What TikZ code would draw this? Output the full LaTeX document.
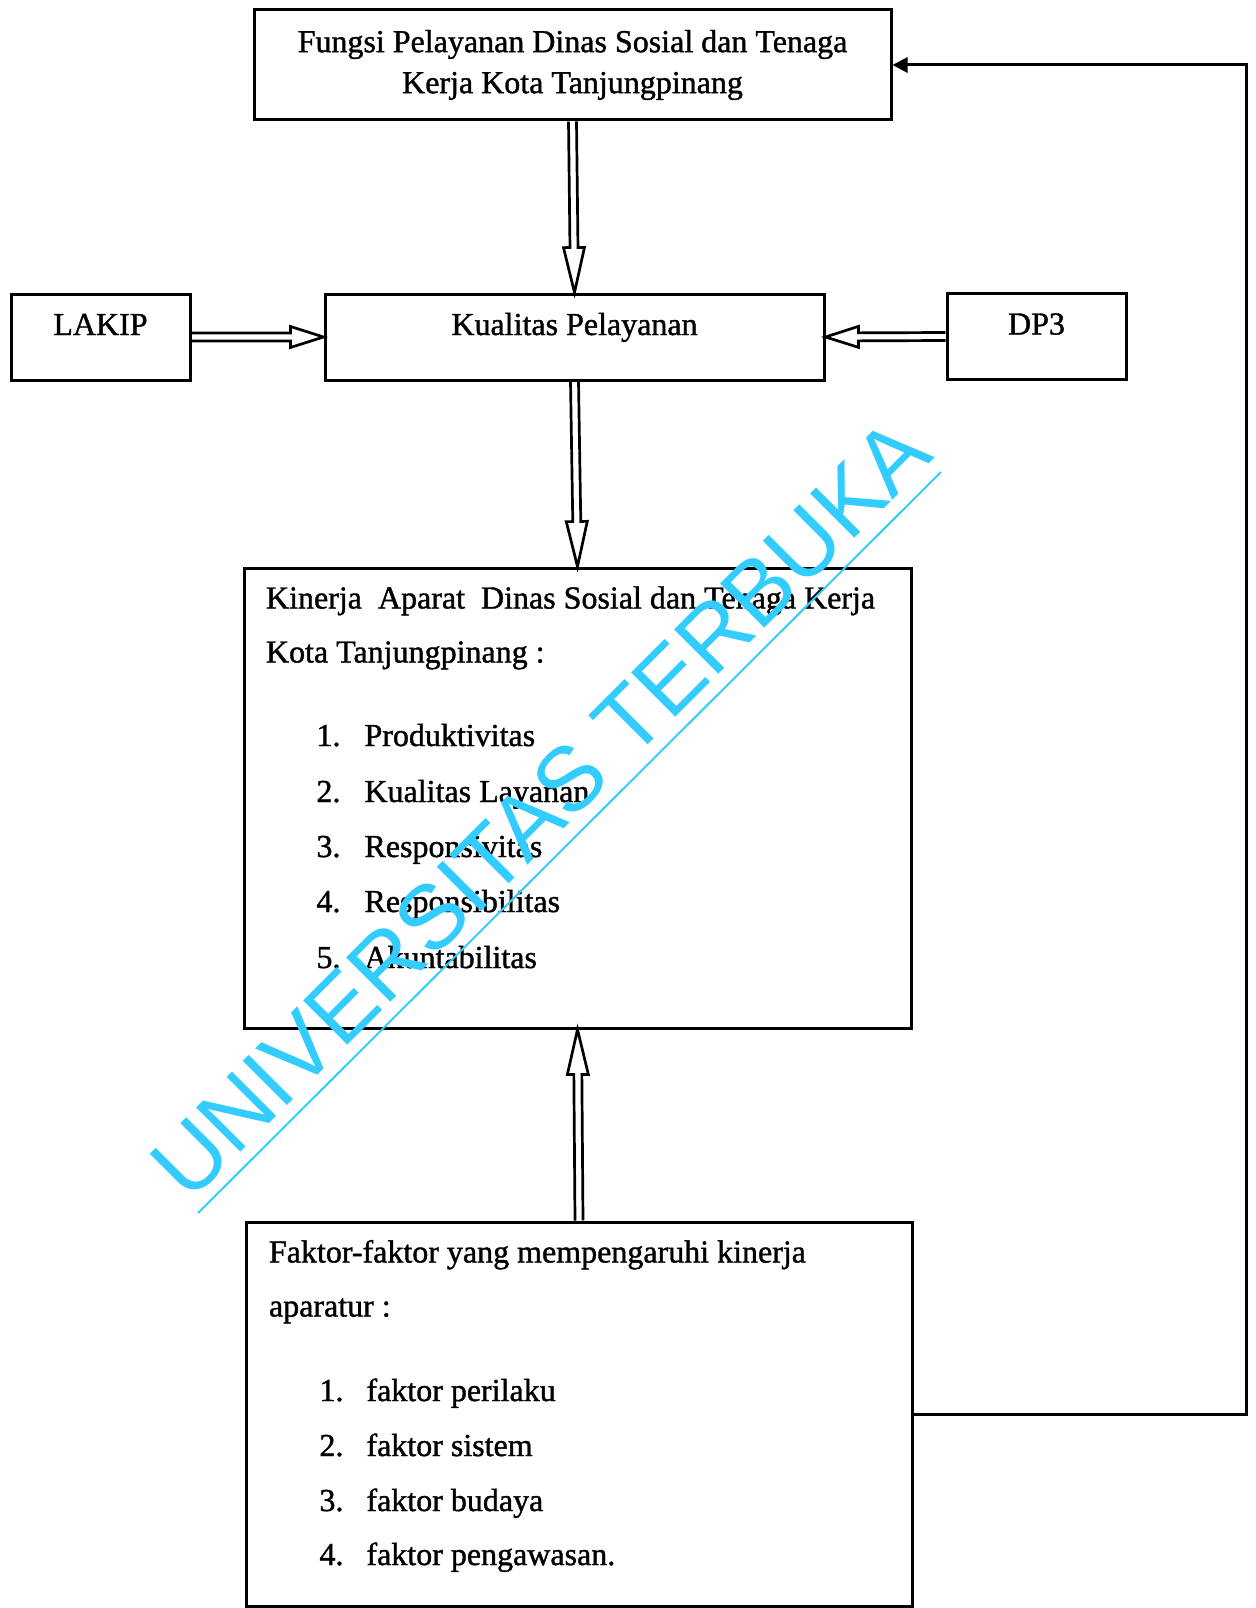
\documentclass[tikz,border=0pt]{standalone}
\usepackage{fontspec}
\setmainfont{Liberation Serif}[UprightFeatures={FakeBold=1.2}]
\newfontfamily\wmfont{Liberation Sans}
\usetikzlibrary{calc,arrows.meta}
\definecolor{ut}{RGB}{51,204,255}

\begin{document}
\begin{tikzpicture}[x=1pt, y=-1pt, line width=3pt,
    box/.style={draw, inner sep=0pt, font=\fontsize{32}{41}\selectfont},
    side box/.style={box, minimum height=86pt, text height=22pt, text depth=26pt},
    line text/.style={anchor=base west, inner sep=0pt, font=\fontsize{32}{38}\selectfont},
    hollow/.style={draw, line width=2.7pt, line join=miter, to path={
      let \p1=($(\tikztotarget)!\headlen!(\tikztostart)$) in
      ($(\tikztostart)!4pt!90:(\tikztotarget)$) -- ($(\p1)!4pt!90:(\tikztotarget)$)
      -- ($(\p1)!10.5pt!90:(\tikztotarget)$) -- (\tikztotarget)
      -- ($(\p1)!10.5pt!-90:(\tikztotarget)$) -- ($(\p1)!4pt!-90:(\tikztotarget)$)
      -- ($(\tikztostart)!4pt!-90:(\tikztotarget)$)}}
  ]
  \useasboundingbox (0,0) rectangle (1255,1608);
  \def\headlen{45pt}
  \def\numwidth{48pt}

  \node [box, minimum width=637pt, minimum height=110pt, align=center] (fungsi) at (572.5,65)
    {Fungsi Pelayanan Dinas Sosial dan Tenaga\\Kerja Kota Tanjungpinang};
  \node [side box, minimum width=499pt] (kualitas) at (574.5,337) {Kualitas Pelayanan};
  \node [side box, minimum width=179pt] (lakip) at (100.5,337) {LAKIP};
  \node [side box, minimum width=179pt] (dp3) at (1036.5,336.5) {DP3};
  \node [box, minimum width=667pt, minimum height=460pt] (kinerja) at (577.5,798) {};
  \node [box, minimum width=666pt, minimum height=384pt] (faktor) at (579,1414) {};

  % kinerja aparat
  \node [line text] (kin head) at ($(kinerja.north west)+(22,42)$)
    {Kinerja\ \ Aparat\ \ Dinas Sosial dan Tenaga Kerja};
  \node [line text] (kin kota) at ($(kinerja.north west)+(22,96)$) {Kota Tanjungpinang :};
  \node [line text] (kin 1) at (315,746) {\makebox[\numwidth][l]{1.}Produktivitas};
  \node [line text] (kin 2) at (315,802) {\makebox[\numwidth][l]{2.}Kualitas Layanan};
  \node [line text] (kin 3) at (315,857) {\makebox[\numwidth][l]{3.}Responsivitas};
  \node [line text] (kin 4) at (315,912) {\makebox[\numwidth][l]{4.}Responsibilitas};
  \node [line text] (kin 5) at (315,968) {\makebox[\numwidth][l]{5.}Akuntabilitas};

  % faktor-faktor
  \def\numwidth{47pt}
  \node [line text] (fak head) at ($(faktor.north west)+(23,42)$) {Faktor-faktor yang mempengaruhi kinerja};
  \node [line text] (fak apa) at ($(faktor.north west)+(23,96)$) {aparatur :};
  \node [line text] (fak 1) at (318,1401) {\makebox[\numwidth][l]{1.}faktor perilaku};
  \node [line text] (fak 2) at (318,1456) {\makebox[\numwidth][l]{2.}faktor sistem};
  \node [line text] (fak 3) at (318,1511) {\makebox[\numwidth][l]{3.}faktor budaya};
  \node [line text] (fak 4) at (318,1565) {\makebox[\numwidth][l]{4.}faktor pengawasan.};

  \draw [hollow] (fungsi.south) to (kualitas.north);
  \draw [hollow] (kualitas.south) to (kinerja.north);
  \draw [hollow] (faktor.north) to (kinerja.south);
  \def\headlen{33pt}
  \draw [hollow] (lakip.east) to (kualitas.west);
  \draw [hollow] (dp3.west) to (kualitas.east);

  \coordinate (fb) at (1246,65);
  \draw [-{Triangle[length=15pt,width=15pt]}] (faktor.east) -| (fb) -- (fungsi.east);

  % watermark
  \node [anchor=base west, inner sep=0pt, rotate=45, text=ut, font=\wmfont\fontsize{91}{91}\selectfont]
    (wm) at (188,1205) {UNIVERSITAS TERBUKA};
  \draw [ut, line width=2pt] (198,1213) -- (941,472);
\end{tikzpicture}
\end{document}
